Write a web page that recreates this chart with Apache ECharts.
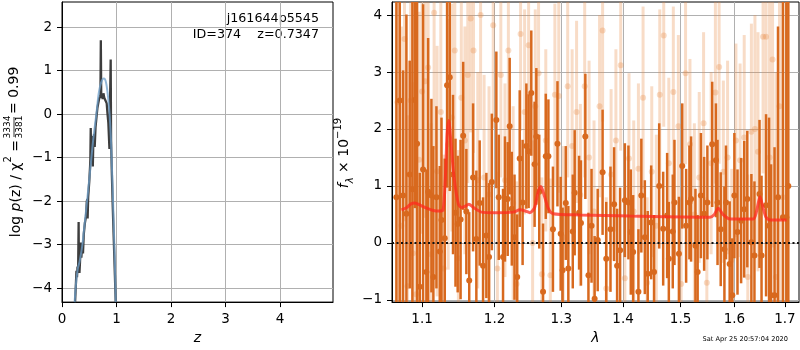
<!DOCTYPE html>
<html>
<head>
<meta charset="utf-8">
<script src="https://cdn.jsdelivr.net/npm/echarts@6/dist/echarts.min.js"></script>
<style>
  html, body { margin: 0; padding: 0; background: #fff; }
  #chart { width: 800px; height: 350px; }
</style>
</head>
<body>
<div id="chart"></div>
<script>
// ---- left panel: log p(z) ----
const zTicks = [0, 1, 2, 3, 4]
const pzTicks = [-4, -3, -2, -1, 0, 1, 2]

// smooth p(z) curve (blue)
const pzSmooth = [
  [0.232, -4.32], [0.26, -3.85], [0.29, -3.55], [0.32, -3.4], [0.35, -3.2], [0.374, -3.0],
  [0.40, -2.7], [0.43, -2.35], [0.459, -2.0], [0.50, -1.5], [0.539, -1.0], [0.58, -0.5],
  [0.63, 0.0], [0.67, 0.45], [0.70, 0.65], [0.73, 0.77], [0.76, 0.82], [0.79, 0.80],
  [0.815, 0.68], [0.84, 0.45], [0.86, 0.2], [0.875, -0.05], [0.895, -0.5], [0.915, -1.2],
  [0.935, -1.95], [0.95, -2.6], [0.967, -3.3], [0.98, -4.0], [0.985, -4.32]
]

// chi2 based p(z) (dark, jagged)
const pzChi2 = [
  [0.24, -4.32], [0.255, -3.9], [0.265, -3.6], [0.275, -3.75], [0.285, -3.5], [0.295, -3.65],
  [0.305, -2.48], [0.31, -3.55], [0.32, -3.65], [0.33, -3.4], [0.345, -2.95], [0.355, -3.3],
  [0.37, -3.0], [0.385, -3.2], [0.40, -2.75], [0.42, -2.5], [0.44, -2.35], [0.455, -2.0],
  [0.465, -1.95], [0.47, -2.4], [0.48, -1.9], [0.50, -1.55], [0.515, -1.2], [0.52, -1.05],
  [0.527, -0.32], [0.535, -1.1], [0.545, -0.5], [0.555, -0.9], [0.565, -1.2], [0.575, -0.6],
  [0.59, -0.45], [0.60, -0.75], [0.615, -0.3], [0.63, -0.1], [0.65, 0.15], [0.665, 0.25],
  [0.68, 0.35], [0.695, 0.40], [0.705, 0.45], [0.712, 1.70], [0.72, 0.38], [0.735, 0.45],
  [0.745, 0.35], [0.76, 0.48], [0.775, 0.38], [0.79, 0.42], [0.805, 0.35], [0.82, 0.25],
  [0.835, 0.0], [0.85, -0.2], [0.86, -0.5], [0.87, -0.8], [0.88, 0.2], [0.893, 1.26],
  [0.90, -0.6], [0.915, -1.4], [0.93, -2.1], [0.95, -2.9], [0.97, -3.7], [0.985, -4.32]
]

// ---- right panel: spectrum ----
const lamTicks = [1.1, 1.2, 1.3, 1.4, 1.5, 1.6, 1.7]
const fluxTicks = [-1, 0, 1, 2, 3, 4]

// [lambda, flux, err] - main spectrum
const specMain = [
  [1.0666, 0.80, 3.6], [1.0709, 2.50, 4.2], [1.0752, 0.83, 2.2], [1.0795, 0.51, 3.5],
  [1.0838, 1.20, 2.0], [1.0873, 0.94, 3.3], [1.0904, 2.51, 1.9], [1.0934, 1.74, 3.1],
  [1.0969, -0.77, 2.0], [1.1013, 1.29, 2.9], [1.1057, -0.51, 1.8], [1.1080, 0.90, 2.7],
  [1.1124, 0.83, 1.7], [1.1150, -0.60, 2.3], [1.1191, 0.80, 1.6], [1.1236, -0.15, 1.5],
  [1.1259, 0.40, 1.8], [1.1303, 0.08, 1.4], [1.1335, 2.77, 1.8], [1.1371, 2.91, 2.0],
  [1.1416, 1.20, 1.4], [1.1450, 0.53, 1.3], [1.1480, 0.33, 1.2], [1.1520, 0.41, 1.4],
  [1.1556, 1.88, 1.3], [1.1600, 0.55, 1.1], [1.1640, -0.66, 1.2], [1.1694, 1.15, 1.3],
  [1.1740, 0.07, 1.2], [1.1787, 0.70, 1.1], [1.1835, -0.40, 1.2], [1.1882, 0.13, 1.1],
  [1.1920, -0.25, 1.3], [1.1960, 1.07, 1.2], [1.2025, 2.16, 1.2], [1.2060, 0.80, 1.1],
  [1.2122, -0.25, 1.2], [1.2150, 0.77, 1.1], [1.2190, 0.77, 1.0], [1.2219, 2.05, 1.2],
  [1.2250, 0.60, 1.0], [1.2290, 0.10, 1.1], [1.2330, -0.60, 1.1], [1.2367, 1.48, 1.2],
  [1.2410, 0.71, 1.1], [1.2466, 1.70, 1.1], [1.2500, 1.61, 1.0], [1.2540, 2.63, 1.1],
  [1.2590, 1.38, 1.1], [1.2616, 1.87, 1.2], [1.2660, 0.90, 1.0], [1.2718, -0.86, 1.2],
  [1.2760, 1.52, 1.1], [1.2800, 1.52, 1.0], [1.2870, 0.24, 1.1], [1.2940, 1.74, 1.1],
  [1.2990, 0.16, 1.0], [1.3020, -0.48, 1.1], [1.3070, 0.70, 1.0], [1.3110, -0.45, 1.1],
  [1.3180, 0.20, 1.0], [1.3210, 0.88, 1.1], [1.3280, 0.53, 1.0], [1.3310, 0.35, 1.1],
  [1.3380, 1.87, 1.1], [1.3430, -0.57, 1.1], [1.3480, 0.30, 1.0], [1.3530, -0.98, 1.1],
  [1.3580, 0.05, 0.9], [1.3660, 1.24, 1.1], [1.3720, -0.28, 1.0], [1.3790, 0.24, 1.1],
  [1.3850, 0.68, 1.0], [1.3900, -0.40, 1.0], [1.3950, -0.13, 1.1], [1.4030, 0.75, 1.0],
  [1.4090, 0.71, 1.0], [1.4130, 0.19, 1.1], [1.4170, -0.16, 1.0], [1.4260, -0.86, 1.1],
  [1.4310, 0.83, 1.0], [1.4370, 0.10, 1.0], [1.4420, -0.54, 1.1], [1.4480, 0.36, 1.0],
  [1.4530, -0.51, 1.0], [1.4620, 1.00, 1.1], [1.4690, 0.25, 1.0], [1.4760, 0.48, 1.1],
  [1.4790, -0.28, 1.0], [1.4860, 0.20, 1.0], [1.4890, 0.71, 1.1], [1.4970, -0.19, 1.0],
  [1.5030, 1.35, 1.1], [1.5100, 0.30, 1.0], [1.5160, 0.71, 1.0], [1.5190, 0.77, 1.1],
  [1.5270, -0.05, 1.0], [1.5310, -0.51, 1.0], [1.5370, 0.83, 1.1], [1.5430, 0.51, 1.0],
  [1.5490, 0.71, 1.0], [1.5580, 1.73, 1.1], [1.5650, 1.45, 1.0], [1.5680, 0.71, 1.1],
  [1.5740, 0.24, 1.0], [1.5810, -0.11, 1.1], [1.5840, 0.71, 1.0], [1.5910, -0.37, 1.1],
  [1.5960, -0.92, 1.0], [1.6000, 0.83, 1.1], [1.6060, 0.19, 1.1], [1.6130, 0.39, 1.1],
  [1.6190, 0.59, 1.2], [1.6250, 0.77, 1.2], [1.6330, 0.01, 1.2], [1.6390, -0.22, 1.3],
  [1.6490, 0.86, 1.3], [1.6530, -0.22, 1.4], [1.6620, 0.66, 1.6], [1.6680, 0.30, 1.9],
  [1.6720, -0.92, 2.3], [1.6790, -0.92, 2.6], [1.6860, 0.80, 3.0], [1.6960, 0.45, 4.0],
  [1.7030, 0.45, 4.2], [1.7070, 1.00, 4.5]
]

// [lambda, flux, err] - second (faint) spectrum
const specFaint = [
  [1.0680, 2.47, 3.5], [1.0730, 0.30, 3.5], [1.0770, 3.58, 3.2], [1.0810, -0.76, 3.0],
  [1.0850, 2.50, 2.8], [1.0880, -0.18, 3.0], [1.0920, -0.90, 2.8], [1.0960, 1.46, 2.6],
  [1.1000, 2.66, 2.5], [1.1040, 2.84, 2.4], [1.1080, 3.08, 2.5], [1.1120, -0.20, 2.3],
  [1.1160, 4.04, 2.4], [1.1200, 1.26, 2.2], [1.1250, 2.30, 2.2], [1.1290, -0.45, 2.0],
  [1.1350, 1.73, 2.2], [1.1400, 2.20, 2.0], [1.1440, 3.38, 2.0], [1.1490, -0.27, 1.9],
  [1.1530, 2.55, 1.8], [1.1580, 1.80, 2.0], [1.1620, 2.95, 1.9], [1.1660, 3.94, 2.0],
  [1.1700, 3.38, 1.8], [1.1760, 1.10, 1.9], [1.1800, 4.00, 2.0], [1.1850, 1.15, 1.8],
  [1.1920, 0.85, 1.9], [1.1980, 3.82, 1.8], [1.2040, -0.45, 1.7], [1.2090, 2.95, 1.8],
  [1.2150, 1.10, 1.7], [1.2200, 3.38, 1.8], [1.2270, 0.70, 1.7], [1.2320, -0.72, 1.8],
  [1.2380, 3.67, 1.7], [1.2440, 2.30, 1.8], [1.2500, 3.47, 1.7], [1.2560, 0.00, 1.8],
  [1.2600, 2.40, 1.7], [1.2650, 2.98, 1.6], [1.2700, -0.55, 1.7], [1.2760, 1.80, 1.6],
  [1.2830, -0.57, 1.7], [1.2900, 2.60, 1.6], [1.2960, 2.58, 1.7], [1.3030, 0.10, 1.6],
  [1.3100, 2.75, 1.6], [1.3170, 1.70, 1.7], [1.3240, 2.30, 1.6], [1.3300, 0.84, 1.6],
  [1.3370, 2.75, 1.6], [1.3440, 1.50, 1.7], [1.3520, 0.55, 1.6], [1.3610, 2.40, 1.6],
  [1.3660, 3.73, 1.6], [1.3720, -0.80, 1.6], [1.3800, 1.20, 1.5], [1.3880, 1.80, 1.6],
  [1.3960, 3.12, 1.5], [1.4030, -0.62, 1.6], [1.4100, 1.48, 1.5], [1.4180, 0.55, 1.6],
  [1.4260, 1.30, 1.5], [1.4340, 2.55, 1.6], [1.4410, -0.70, 1.5], [1.4490, 1.25, 1.5],
  [1.4570, 0.30, 1.6], [1.4630, 2.60, 1.5], [1.4700, 3.64, 1.6], [1.4790, 1.40, 1.5],
  [1.4870, 2.65, 1.5], [1.4960, 2.05, 1.6], [1.5010, -0.72, 1.5], [1.5090, 2.98, 1.6],
  [1.5170, 1.73, 1.5], [1.5250, 0.50, 1.6], [1.5340, 1.15, 1.5], [1.5420, 2.10, 1.6],
  [1.5480, -0.70, 1.5], [1.5560, 1.40, 1.6], [1.5640, 2.64, 1.6], [1.5710, 3.09, 1.7],
  [1.5790, 1.25, 1.6], [1.5870, 1.50, 1.7], [1.5950, -0.30, 1.6], [1.6030, 1.80, 1.7],
  [1.6110, 1.45, 1.7], [1.6190, 1.85, 1.8], [1.6260, -0.60, 1.8], [1.6330, 1.95, 1.9],
  [1.6400, 2.00, 2.0], [1.6460, 1.60, 2.1], [1.6560, 3.62, 2.4], [1.6620, 3.62, 2.6],
  [1.6690, 1.50, 3.0], [1.6750, 3.22, 3.3], [1.6820, -0.60, 3.6], [1.6890, 2.40, 4.0],
  [1.6960, 0.80, 4.2]
]

// best-fit template
const specModel = [
  [1.0731, 0.58], [1.0800, 0.62], [1.0850, 0.68], [1.0904, 0.70], [1.0980, 0.66],
  [1.1060, 0.61], [1.1150, 0.57], [1.1230, 0.56], [1.1281, 0.58], [1.1310, 1.10],
  [1.1335, 1.90], [1.1358, 2.15], [1.1385, 1.80], [1.1430, 1.15], [1.1490, 0.68],
  [1.1533, 0.62], [1.1580, 0.64], [1.1634, 0.68], [1.1700, 0.62], [1.1813, 0.54],
  [1.2000, 0.53], [1.2270, 0.54], [1.2369, 0.58], [1.2450, 0.56], [1.2518, 0.53],
  [1.2590, 0.62], [1.2640, 0.88], [1.2685, 0.99], [1.2740, 0.82], [1.2800, 0.60],
  [1.2874, 0.51], [1.3293, 0.49], [1.4110, 0.47], [1.5538, 0.45], [1.5620, 0.50],
  [1.5694, 0.61], [1.5780, 0.50], [1.5915, 0.42], [1.6367, 0.42], [1.6430, 0.55],
  [1.6499, 0.81], [1.6560, 0.62], [1.6620, 0.45], [1.6698, 0.40], [1.7035, 0.40]
]

const FONT = 'DejaVu Sans'
const chart = echarts.init(document.getElementById('chart'))

// 负号用 unicode minus，和 matplotlib 一致
const fmtNum = (v) => (v < 0 ? '\u2212' + Math.abs(v) : String(v))

const axisBase = (ticks, fmt) => ({
  axisLine: { show: true, onZero: false, lineStyle: { color: '#000', width: 1 } },
  axisTick: { show: true, length: 5, customValues: ticks, lineStyle: { color: '#000' } },
  axisLabel: {
    customValues: ticks, formatter: fmt, margin: 10,
    color: '#000', fontSize: 13.5, fontFamily: FONT
  },
  splitLine: { show: true, lineStyle: { color: '#b0b0b0', width: 1 } }
})

// error bar with dot, clipped to the grid
const errorBar = (color, barW, r) => (params, api) => {
  const x = api.value(0)
  const y = api.value(1)
  const e = api.value(2)
  const top = api.coord([x, y + e])
  const bot = api.coord([x, y - e])
  const mid = api.coord([x, y])
  const cs = params.coordSys
  const children = []
  const rect = echarts.graphic.clipRectByRect(
    { x: top[0] - barW / 2, y: top[1], width: barW, height: bot[1] - top[1] },
    { x: cs.x, y: cs.y, width: cs.width, height: cs.height }
  )
  if (rect) children.push({ type: 'rect', shape: rect, style: { fill: color } })
  if (mid[1] >= cs.y && mid[1] <= cs.y + cs.height) {
    children.push({ type: 'circle', shape: { cx: mid[0], cy: mid[1], r }, style: { fill: color } })
  }
  return { type: 'group', children }
}

const option = {
  animation: false,
  backgroundColor: '#fff',
  grid: [
    { left: 62, top: 2, width: 271, height: 302, show: true, borderColor: '#000', borderWidth: 1 },
    { left: 392, top: 2, width: 407, height: 302, show: true, borderColor: '#000', borderWidth: 1 }
  ],
  xAxis: [
    {
      gridIndex: 0, type: 'value', min: 0, max: 4.97,
      ...axisBase(zTicks, fmtNum),
      name: 'z', nameLocation: 'middle', nameGap: 28,
      nameTextStyle: { color: '#000', fontSize: 14, fontFamily: FONT, fontStyle: 'italic' }
    },
    {
      gridIndex: 1, type: 'log', logBase: 10, min: 1.061, max: 1.729,
      ...axisBase(lamTicks, (v) => Number(v).toFixed(1)),
      name: 'λ', nameLocation: 'middle', nameGap: 28,
      nameTextStyle: { color: '#000', fontSize: 14, fontFamily: FONT, fontStyle: 'italic' }
    }
  ],
  yAxis: [
    { gridIndex: 0, type: 'value', min: -4.32, max: 2.58, ...axisBase(pzTicks, fmtNum) },
    { gridIndex: 1, type: 'value', min: -1.04, max: 4.23, ...axisBase(fluxTicks, fmtNum) }
  ],
  graphic: [
    {
      type: 'text', right: 800 - 319, top: 12,
      style: { text: 'j161644p5545', fill: '#000', fontSize: 12.7, fontFamily: FONT, align: 'right' }
    },
    {
      type: 'text', right: 800 - 319, top: 28,
      style: { text: 'ID=374    z=0.7347', fill: '#000', fontSize: 12.7, fontFamily: FONT, align: 'right' }
    },
    // left y label, with a stacked fraction
    {
      type: 'group', x: 13, y: 127, rotation: Math.PI / 2,
      children: [
        {
          type: 'text', x: -13, y: 0,
          style: {
            text: '{n|log }{i|p}{n|(z) / χ}{sup|2}{n| =}',
            align: 'right', verticalAlign: 'middle', textAlign: 'right', textVerticalAlign: 'middle',
            rich: {
              n: { fontSize: 14, fontFamily: FONT, color: '#000', lineHeight: 20, verticalAlign: 'bottom' },
              i: { fontSize: 14, fontFamily: FONT, fontStyle: 'italic', color: '#000', lineHeight: 20, verticalAlign: 'bottom' },
              sup: { fontSize: 10, fontFamily: FONT, color: '#000', lineHeight: 20, verticalAlign: 'top' }
            }
          }
        },
        {
          type: 'text', x: 0, y: -5,
          style: { text: '3334', fill: '#000', fontSize: 9, fontFamily: FONT, align: 'center', verticalAlign: 'middle', textAlign: 'center', textVerticalAlign: 'middle' }
        },
        { type: 'line', shape: { x1: -10, y1: 1, x2: 10, y2: 1 }, style: { stroke: '#000', lineWidth: 0.8 } },
        {
          type: 'text', x: 0, y: 7,
          style: { text: '3381', fill: '#000', fontSize: 9, fontFamily: FONT, align: 'center', verticalAlign: 'middle', textAlign: 'center', textVerticalAlign: 'middle' }
        },
        {
          type: 'text', x: 13, y: 1,
          style: { text: '= 0.99', fill: '#000', fontSize: 14, fontFamily: FONT, align: 'left', verticalAlign: 'middle', textAlign: 'left', textVerticalAlign: 'middle' }
        }
      ]
    },
    // right y label
    {
      type: 'text', x: 344, y: 153, rotation: Math.PI / 2,
      style: {
        text: '{i|f}{sub|λ}{n| × 10}{sup|−19}',
        align: 'center', verticalAlign: 'middle', textAlign: 'center', textVerticalAlign: 'middle',
        rich: {
          i: { fontSize: 14, fontFamily: FONT, fontStyle: 'italic', color: '#000', lineHeight: 22, verticalAlign: 'middle' },
          sub: { fontSize: 10, fontFamily: FONT, fontStyle: 'italic', color: '#000', lineHeight: 22, verticalAlign: 'bottom' },
          n: { fontSize: 14, fontFamily: FONT, color: '#000', lineHeight: 22, verticalAlign: 'middle' },
          sup: { fontSize: 10, fontFamily: FONT, color: '#000', lineHeight: 22, verticalAlign: 'top' }
        }
      }
    },
    {
      type: 'text', right: 12, top: 336,
      style: { text: 'Sat Apr 25 20:57:04 2020', fill: '#000', fontSize: 6.6, fontFamily: FONT, align: 'right' }
    }
  ],
  series: [
    {
      name: 'chi2', type: 'line', xAxisIndex: 0, yAxisIndex: 0,
      data: pzChi2, showSymbol: false, smooth: false,
      lineStyle: { color: '#333', width: 2.3, opacity: 0.95 }
    },
    {
      name: 'pz', type: 'line', xAxisIndex: 0, yAxisIndex: 0,
      data: pzSmooth, showSymbol: false, smooth: 0.3,
      lineStyle: { color: '#6e9fca', width: 2, opacity: 0.75 }
    },
    {
      name: 'faint', type: 'custom', xAxisIndex: 1, yAxisIndex: 1,
      data: specFaint, encode: { x: 0, y: 1 },
      renderItem: errorBar('rgba(232,140,70,0.3)', 3, 3)
    },
    {
      name: 'main', type: 'custom', xAxisIndex: 1, yAxisIndex: 1,
      data: specMain, encode: { x: 0, y: 1 },
      renderItem: errorBar('#d8691e', 2.5, 3)
    },
    {
      name: 'model', type: 'line', xAxisIndex: 1, yAxisIndex: 1,
      data: specModel, showSymbol: false, smooth: 0.25,
      lineStyle: { color: '#ff2a1f', width: 3, opacity: 0.75 },
      markLine: {
        silent: true, symbol: 'none', label: { show: false },
        lineStyle: { color: '#111', width: 2, type: [2, 2.5] },
        data: [{ yAxis: 0 }]
      }
    }
  ]
}

chart.setOption(option)
</script>
</body>
</html>
